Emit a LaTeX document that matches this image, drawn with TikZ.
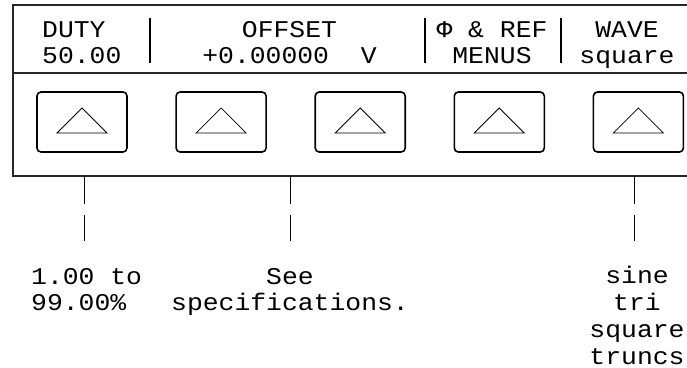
\documentclass[tikz,border=0pt]{standalone}
\usepackage{fontspec}
\newfontfamily\lcdfamily[FakeStretch=1.1]{Liberation Mono}
\newcommand\lcdfont{\lcdfamily\fontsize{24}{26}\selectfont}
\usetikzlibrary{positioning}
\tikzset{
  frame/.style={line width=1.2pt, draw=black!85},
  divider/.style={line width=1.4pt},
  softkey/.style={rectangle, rounded corners=4pt, draw, line width=1.6pt, minimum width=90pt, minimum height=60pt, inner sep=0pt},
  glyph/.style={line width=0.8pt},
  lcd/.style={font=\lcdfont, inner sep=0pt},
  lead/.style={line width=1pt, dash pattern=on 28pt off 11pt}
}
\begin{document}
\begin{tikzpicture}[x=1pt, y=-1pt, node distance=10pt and 47.5pt]
  \useasboundingbox (0,0) rectangle (687,367);

  % --- Panel ---
  \draw[frame] (687,5) -- (13,5) -- (13,176) -- (687,176);
  \draw[frame] (13,73) -- (687,73);

  % --- Softkey labels (base = last line) ---
  \node (duty) [lcd, anchor=base west, align=left] at (42,63) {DUTY\\50.00};
  \node (offset) [lcd, anchor=base, align=center] at (289.5,63) {OFFSET\\+0.00000~~V};
  \node (menus) [lcd, anchor=base, align=center] at (492,63) {Φ \& REF\\MENUS};
  \node (wave) [lcd, anchor=base, align=center] at (627,63) {WAVE\\square};

  \draw[divider] (150,18) -- (150,63);
  \draw[divider] (425,18) -- (425,63);
  \draw[divider] (561,18) -- (561,63);

  % --- Softkeys ---
  \node (k1) [softkey] at (82,122) {};
  \node (k2) [softkey, right=of k1] {};
  \node (k3) [softkey, right=of k2] {};
  \node (k4) [softkey, right=of k3] {};
  \node (k5) [softkey, right=of k4] {};
  \foreach \k in {k1,k2,k3,k4,k5}
    \draw[glyph] (\k) ++(-25,11) -- ++(50,0) -- ++(-25,-25) -- cycle;

  % --- Leaders and choices ---
  \coordinate (t1) at (84,176);
  \coordinate (t2) at (290,176);
  \coordinate (t5) at (634,176);
  \node (range) [lcd, anchor=base west, align=left] at (31,310) {1.00 to\\99.00\%};
  \node (spec) [lcd, anchor=base, align=center] at (290,310) {See\\specifications.};
  \node (shapes) [lcd, anchor=base, align=center] at (637,364) {sine\\[1pt]tri\\[1pt]square\\[1pt]truncs};
  \draw[lead] (t1) -- ++(0,65);
  \draw[lead] (t2) -- ++(0,65);
  \draw[lead] (t5) -- ++(0,65);
\end{tikzpicture}
\end{document}
